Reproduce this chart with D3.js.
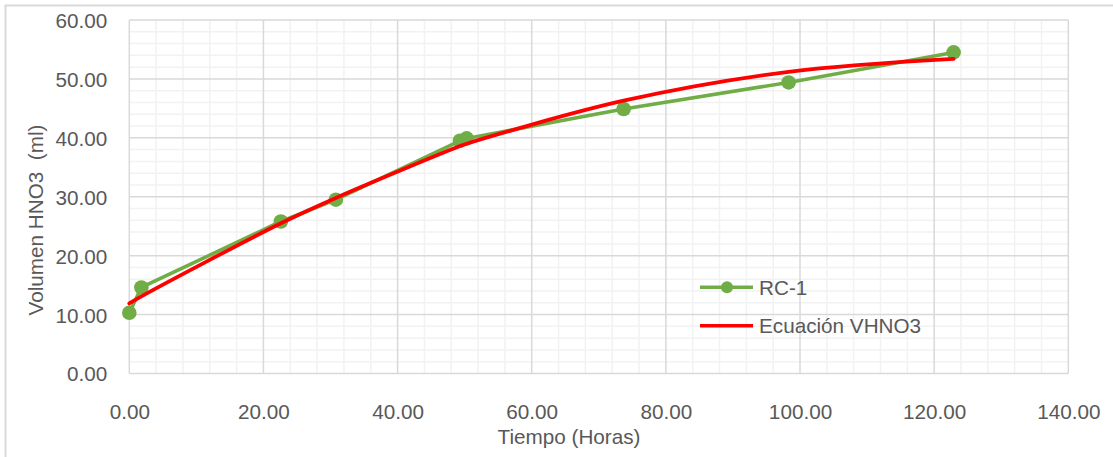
<!DOCTYPE html>
<html>
<head>
<meta charset="utf-8">
<script src="https://cdn.jsdelivr.net/npm/d3@7"></script>
<style>
  html, body { margin: 0; padding: 0; background: #fff; }
  svg { display: block; font-family: "Liberation Sans", Arial, sans-serif; }
</style>
</head>
<body>
<svg id="chart" width="1113" height="457"></svg>
<script>
// Measured volume of HNO3 over time (sample RC-1)
const timeRC1 = [0, 1.8, 22.6, 30.8, 49.3, 50.3, 73.7, 98.3, 122.9];
const volRC1  = [10.3, 14.6, 25.8, 29.5, 39.5, 39.9, 44.9, 49.4, 54.5];

// Fitted equation VHNO3 evaluated at the same times
const timeEq = [0, 1.8, 22.6, 30.8, 49.3, 50.3, 73.7, 98.3, 122.9];
const volEq  = [11.9, 13.1, 25.5, 29.8, 38.6, 39.0, 46.3, 51.2, 53.4];

const xTicks = [0, 20, 40, 60, 80, 100, 120, 140];
const yTicks = [0, 10, 20, 30, 40, 50, 60];
const seriesNames = ["RC-1", "Ecuación VHNO3"];
const xTitle = "Tiempo (Horas)";
const yTitle = "Volumen HNO3\u00a0\u00a0(ml)";

const svg = d3.select("#chart");
const plot = { left: 129.3, right: 1068.3, top: 20, bottom: 373.5 };

const x = d3.scaleLinear().domain([0, 140]).range([plot.left, plot.right]);
const y = d3.scaleLinear().domain([0, 60]).range([plot.bottom, plot.top]);

const green = "#70AD47", red = "#FF0000", textCol = "#595959";
const fontSize = 20.7;

// outer chart frame
svg.append("rect")
  .attr("x", 5.5).attr("y", 5.5).attr("width", 1200).attr("height", 600)
  .attr("fill", "#fff").attr("stroke", "#D9D9D9").attr("stroke-width", 2);

// minor gridlines
const g = svg.append("g");
g.selectAll("line.minx").data(d3.range(0, 141, 4).filter(v => v % 20 !== 0))
  .join("line").attr("class", "minx")
  .attr("x1", d => x(d)).attr("x2", d => x(d))
  .attr("y1", plot.top).attr("y2", plot.bottom)
  .attr("stroke", "#F2F2F2").attr("stroke-width", 1.5);
g.selectAll("line.miny").data(d3.range(0, 61, 2).filter(v => v % 10 !== 0))
  .join("line").attr("class", "miny")
  .attr("y1", d => y(d)).attr("y2", d => y(d))
  .attr("x1", plot.left).attr("x2", plot.right)
  .attr("stroke", "#F2F2F2").attr("stroke-width", 1.5);

// major gridlines
g.selectAll("line.majx").data(xTicks)
  .join("line").attr("class", "majx")
  .attr("x1", d => x(d)).attr("x2", d => x(d))
  .attr("y1", plot.top).attr("y2", plot.bottom)
  .attr("stroke", "#D9D9D9").attr("stroke-width", 1.5);
g.selectAll("line.majy").data(yTicks)
  .join("line").attr("class", "majy")
  .attr("y1", d => y(d)).attr("y2", d => y(d))
  .attr("x1", plot.left).attr("x2", plot.right)
  .attr("stroke", "#D9D9D9").attr("stroke-width", 1.5);

// axes (labels only)
const fmt = d3.format(".2f");
const xAxis = svg.append("g")
  .attr("transform", `translate(0,${plot.bottom})`)
  .call(d3.axisBottom(x).tickValues(xTicks).tickFormat(fmt).tickSize(0).tickPadding(31));
const yAxis = svg.append("g")
  .attr("transform", `translate(${plot.left},0)`)
  .call(d3.axisLeft(y).tickValues(yTicks).tickFormat(fmt).tickSize(0).tickPadding(22));
[xAxis, yAxis].forEach(a => {
  a.select(".domain").remove();
  a.selectAll("text").attr("fill", textCol).style("font-size", fontSize + "px")
    .style("font-family", '"Liberation Sans", Arial, sans-serif');
});
yAxis.selectAll("text").attr("dy", "0.36em");

// axis titles
svg.append("text").attr("x", 569).attr("y", 444).attr("text-anchor", "middle")
  .attr("fill", textCol).style("font-size", fontSize + "px").text(xTitle);
svg.append("text").attr("transform", "translate(43,220) rotate(-90)")
  .attr("text-anchor", "middle").attr("fill", textCol)
  .style("font-size", fontSize + "px").text(yTitle);

// RC-1 series: straight segments with markers
const rc = timeRC1.map((t, i) => [t, volRC1[i]]);
svg.append("path").datum(rc)
  .attr("d", d3.line().x(d => x(d[0])).y(d => y(d[1])))
  .attr("fill", "none").attr("stroke", green).attr("stroke-width", 3.6)
  .attr("stroke-linejoin", "round");
svg.selectAll("circle.pt").data(rc).join("circle").attr("class", "pt")
  .attr("cx", d => x(d[0])).attr("cy", d => y(d[1])).attr("r", 7.3)
  .attr("fill", green);

// fitted equation: smoothed curve
const eq = timeEq.map((t, i) => [t, volEq[i]]);
svg.append("path").datum(eq)
  .attr("d", d3.line().curve(d3.curveCatmullRom.alpha(0.5)).x(d => x(d[0])).y(d => y(d[1])))
  .attr("fill", "none").attr("stroke", red).attr("stroke-width", 3.8)
  .attr("stroke-linecap", "round");

// legend
const legend = svg.append("g");
const items = [
  { name: seriesNames[0], color: green, marker: true, y: 287.3 },
  { name: seriesNames[1], color: red, marker: false, y: 325.7 }
];
items.forEach(it => {
  legend.append("line").attr("x1", 700).attr("x2", 753)
    .attr("y1", it.y).attr("y2", it.y)
    .attr("stroke", it.color).attr("stroke-width", 3.6);
  if (it.marker) {
    legend.append("circle").attr("cx", 727).attr("cy", it.y).attr("r", 6)
      .attr("fill", it.color);
  }
  legend.append("text").attr("x", 759).attr("y", it.y).attr("dy", "0.36em")
    .attr("fill", textCol).style("font-size", fontSize + "px").text(it.name);
});
</script>
</body>
</html>
